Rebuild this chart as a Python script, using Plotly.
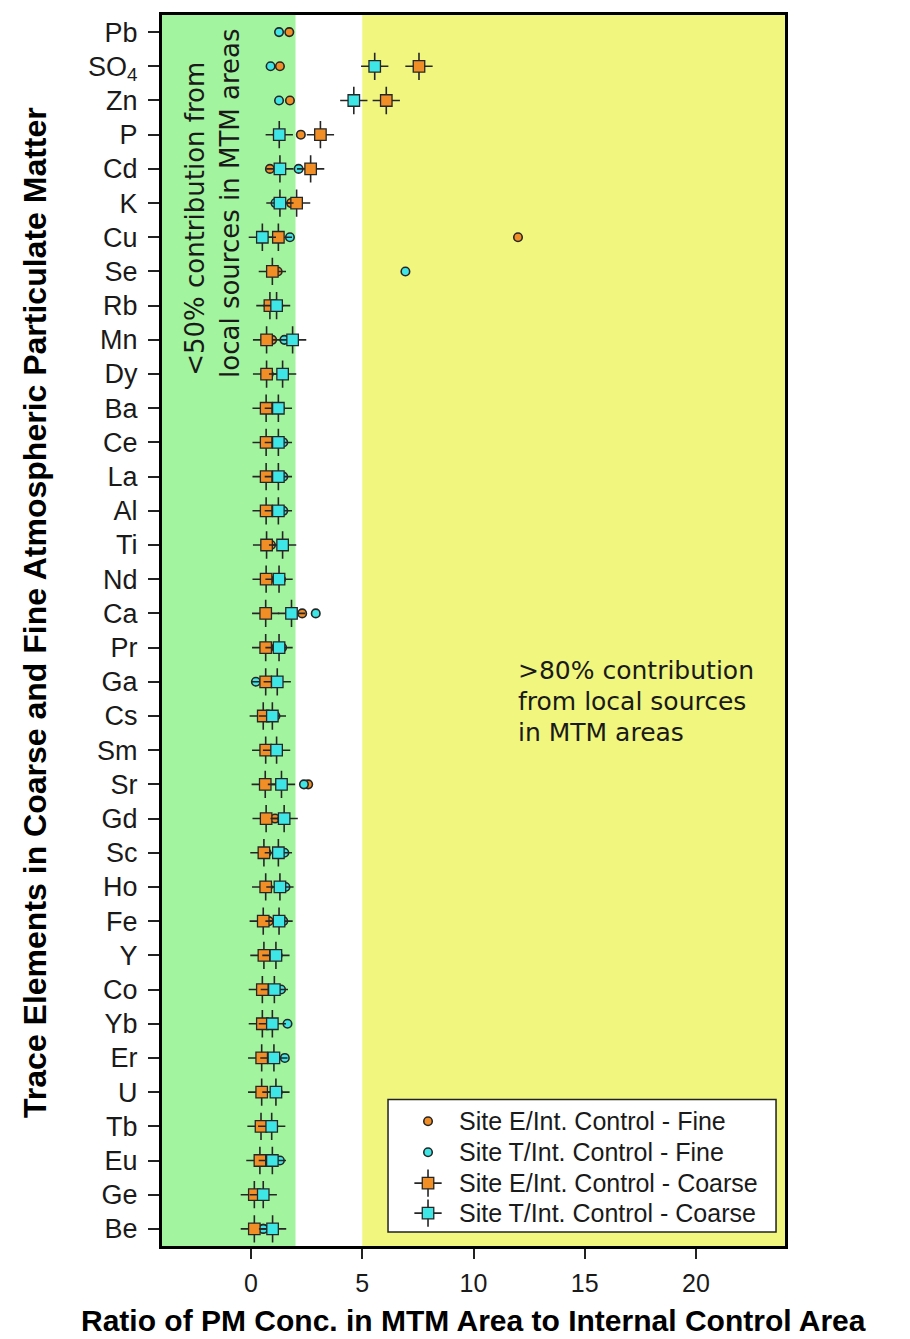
import plotly.graph_objects as go

# Elements, listed top to bottom
elements = ["Pb", "SO<sub>4</sub>", "Zn", "P", "Cd", "K", "Cu", "Se", "Rb", "Mn",
            "Dy", "Ba", "Ce", "La", "Al", "Ti", "Nd", "Ca", "Pr", "Ga",
            "Cs", "Sm", "Sr", "Gd", "Sc", "Ho", "Fe", "Y", "Co", "Yb",
            "Er", "U", "Tb", "Eu", "Ge", "Be"]

# Ratios, fine fraction
fine_E = [1.72, 1.30, 1.75, 2.24, 0.85, 1.80, 12.0, 1.20, 0.90, 0.95,
          0.80, 0.80, 0.80, 0.80, 0.80, 0.90, 0.80, 2.30, 0.80, 0.75,
          0.60, 0.75, 2.57, 1.08, 0.70, 0.75, 0.80, 0.60, 0.60, 0.55,
          0.55, 0.55, 0.55, 0.50, 0.25, 0.55]
fine_T = [1.26, 0.88, 1.26, 1.20, 2.14, 1.10, 1.75, 6.94, 1.00, 1.50,
          1.40, 1.30, 1.45, 1.45, 1.45, 1.40, 1.35, 2.91, 1.40, 0.22,
          1.10, 1.20, 2.38, 1.40, 1.50, 1.55, 1.45, 1.20, 1.35, 1.64,
          1.52, 1.20, 1.00, 1.30, 0.50, 0.55]

# Ratios, coarse fraction
coarse_E = [None, 7.55, 6.08, 3.12, 2.68, 2.05, 1.23, 0.96, 0.85, 0.70,
            0.70, 0.68, 0.68, 0.68, 0.68, 0.70, 0.68, 0.66, 0.66, 0.66,
            0.55, 0.66, 0.64, 0.68, 0.58, 0.66, 0.55, 0.58, 0.51, 0.51,
            0.48, 0.48, 0.45, 0.40, 0.15, 0.15]
coarse_T = [None, 5.56, 4.62, 1.27, 1.30, 1.30, 0.51, None, 1.15, 1.87,
            1.42, 1.23, 1.23, 1.23, 1.23, 1.42, 1.26, 1.82, 1.26, 1.18,
            0.96, 1.15, 1.37, 1.49, 1.23, 1.30, 1.26, 1.12, 1.05, 0.96,
            1.03, 1.12, 0.93, 0.96, 0.55, 0.97]

series_names = ["Site E/Int. Control - Fine", "Site T/Int. Control - Fine",
                "Site E/Int. Control - Coarse", "Site T/Int. Control - Coarse"]

ORANGE = "#F28E26"
CYAN = "#3FE6E6"
EDGE = "#262626"
GREEN = "#A2F59E"
YELLOW = "#F0F67E"
TEXT = "#1a1a1a"

XMIN, XMAX = -4, 24
ypos = list(range(len(elements)))

fig = go.Figure()


def fine_trace(vals, color, x="x", y="y", yy=None):
    return go.Scatter(
        x=vals, y=yy if yy is not None else ypos, mode="markers",
        xaxis=x, yaxis=y, showlegend=False, hoverinfo="skip",
        marker=dict(symbol="circle", size=8.5, color=color,
                    line=dict(color=EDGE, width=1.6)))


def coarse_traces(vals, color, x="x", y="y", yy=None):
    yy = yy if yy is not None else ypos
    cross = go.Scatter(
        x=vals, y=yy, mode="markers", xaxis=x, yaxis=y,
        showlegend=False, hoverinfo="skip",
        marker=dict(symbol="cross-thin", size=19.5, color=EDGE,
                    line=dict(color=EDGE, width=1.6)))
    square = go.Scatter(
        x=vals, y=yy, mode="markers", xaxis=x, yaxis=y,
        showlegend=False, hoverinfo="skip",
        marker=dict(symbol="square", size=11.5, color=color,
                    line=dict(color=EDGE, width=1.3)))
    return [cross, square]


fig.add_trace(fine_trace(fine_E, ORANGE))
fig.add_trace(fine_trace(fine_T, CYAN))
for t in coarse_traces(coarse_E, ORANGE):
    fig.add_trace(t)
for t in coarse_traces(coarse_T, CYAN):
    fig.add_trace(t)

# Legend drawn inside the plot on an overlay axis in 0..1 units
leg_x = 0.427
leg_rows = [0.1013, 0.0762, 0.0511, 0.0267]
fig.add_trace(fine_trace([leg_x], ORANGE, "x2", "y2", [leg_rows[0]]))
fig.add_trace(fine_trace([leg_x], CYAN, "x2", "y2", [leg_rows[1]]))
for t in coarse_traces([leg_x], ORANGE, "x2", "y2", [leg_rows[2]]):
    fig.add_trace(t)
for t in coarse_traces([leg_x], CYAN, "x2", "y2", [leg_rows[3]]):
    fig.add_trace(t)

shapes = [
    dict(type="rect", xref="x", yref="paper", x0=XMIN, x1=2, y0=0, y1=1,
         fillcolor=GREEN, line=dict(width=0), layer="below"),
    dict(type="rect", xref="x", yref="paper", x0=5, x1=XMAX, y0=0, y1=1,
         fillcolor=YELLOW, line=dict(width=0), layer="below"),
    dict(type="rect", xref="paper", yref="paper", x0=0.3628, x1=0.9856,
         y0=0.0114, y1=0.1191, fillcolor="white",
         line=dict(color="#222", width=1.5), layer="below"),
]

note_font = dict(family="DejaVu Sans", size=26, color=TEXT)
annotations = [
    dict(x=-2.5, y=5.45, xref="x", yref="y", text="<50% contribution from",
         textangle=-90, showarrow=False, font=note_font),
    dict(x=-0.95, y=5.0, xref="x", yref="y", text="local sources in MTM areas",
         textangle=-90, showarrow=False, font=note_font),
    dict(x=0.5, y=-0.0605, xref="paper", yref="paper",
         text="<b>Ratio of PM Conc. in MTM Area to Internal Control Area</b>",
         showarrow=False, yanchor="middle",
         font=dict(family="Liberation Sans", size=30, color="black")),
    dict(x=-0.204, y=0.515, xref="paper", yref="paper",
         text="<b>Trace Elements in Coarse and Fine Atmospheric Particulate Matter</b>",
         textangle=-90, showarrow=False, xanchor="center",
         font=dict(family="Liberation Sans", size=32, color="black")),
]

# Right-hand note, one line per row
note_lines = [">80% contribution", "from local sources", "in MTM areas"]
for k, line in enumerate(note_lines):
    annotations.append(dict(x=(517 - 251) / 22.3, y=18.68 + k * 0.9,
                            xref="x", yref="y", text=line, xanchor="left",
                            yanchor="middle", showarrow=False,
                            font=dict(family="DejaVu Sans", size=25, color=TEXT)))

for row, name in zip(leg_rows, series_names):
    annotations.append(dict(x=0.4735, y=row, xref="paper", yref="paper",
                            text=name, xanchor="left", yanchor="middle",
                            showarrow=False,
                            font=dict(family="Liberation Sans", size=25,
                                      color=TEXT)))

fig.update_layout(
    width=910, height=1339,
    margin=dict(l=162, r=125, t=12, b=93),
    paper_bgcolor="white", plot_bgcolor="white",
    showlegend=False,
    shapes=shapes, annotations=annotations,
    xaxis=dict(range=[XMIN, XMAX], tickvals=[0, 5, 10, 15, 20],
               showgrid=False, zeroline=False,
               showline=True, mirror=True, linecolor="black", linewidth=3,
               ticks="outside", ticklen=10, tickwidth=2, tickcolor="#222",
               ticklabelstandoff=3,
               tickfont=dict(family="Liberation Sans", size=25, color=TEXT)),
    yaxis=dict(range=[len(elements) - 0.5, -0.5], tickvals=ypos,
               ticktext=elements, showgrid=False, zeroline=False,
               showline=True, mirror=True, linecolor="black", linewidth=3,
               ticks="outside", ticklen=11, tickwidth=2, tickcolor="#222",
               ticklabelstandoff=5,
               tickfont=dict(family="Liberation Sans", size=27, color=TEXT)),
    xaxis2=dict(range=[0, 1], overlaying="x", visible=False),
    yaxis2=dict(range=[0, 1], overlaying="y", visible=False),
)

fig.write_html("out.html")
